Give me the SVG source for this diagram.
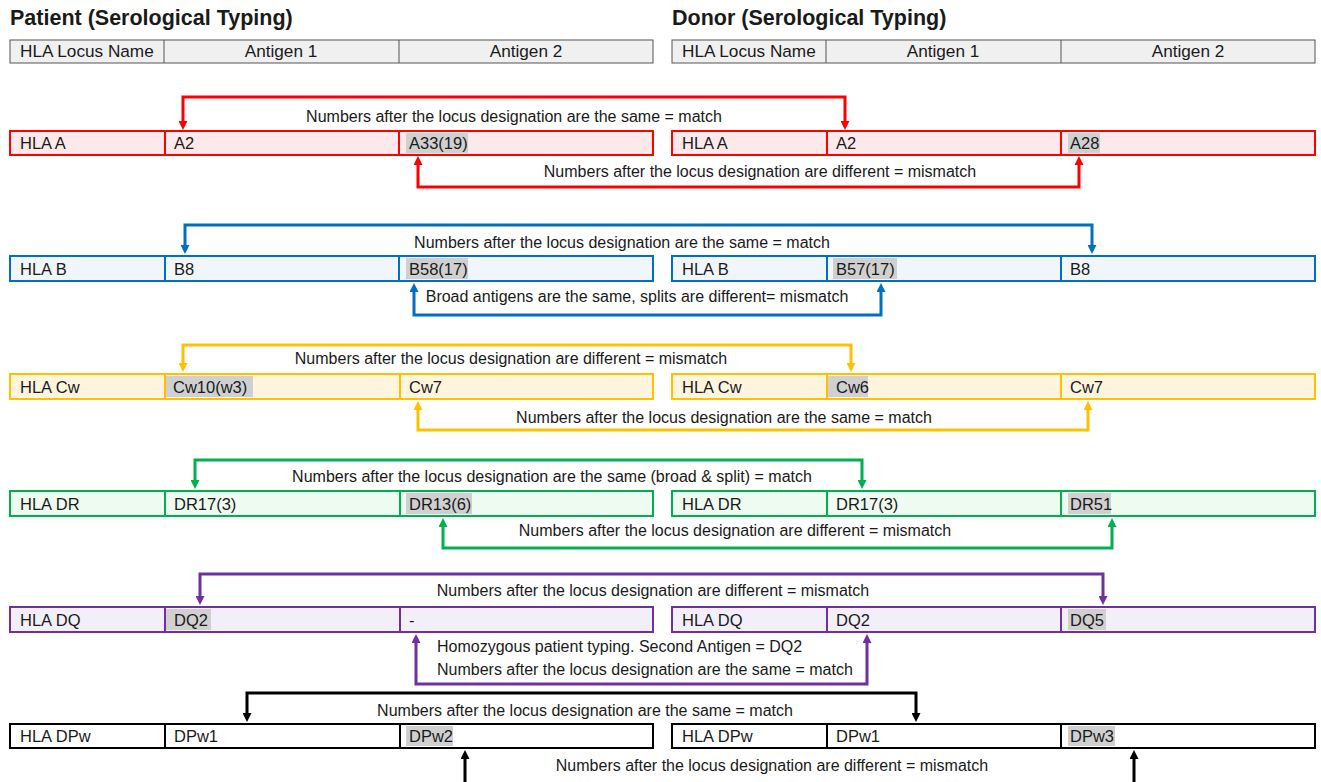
<svg xmlns="http://www.w3.org/2000/svg" width="1321" height="782" viewBox="0 0 1321 782">
<style>
text{font-family:"Liberation Sans",Arial,sans-serif;fill:#1a1a1a}
.title{font-size:21.5px;font-weight:bold}
.cell{font-size:16.5px}
.hcell{font-size:17.2px}
.lbl{font-size:16px;text-anchor:middle}
.lbll{font-size:16px}
.hdr rect{fill:#f0f0f0;stroke:#555;stroke-width:1}
.hdr line{stroke:#555;stroke-width:1}
.hl{fill:#d0d0d0}
.conn{fill:none;stroke-width:3;stroke-linejoin:miter}
</style>
<defs>
<marker id="ar-red" viewBox="0 0 10 10" refX="0" refY="5" markerWidth="9" markerHeight="9" markerUnits="userSpaceOnUse" orient="auto-start-reverse"><path d="M0,0 L10,5 L0,10 z" fill="#ff0000"/></marker>
<marker id="ar-blue" viewBox="0 0 10 10" refX="0" refY="5" markerWidth="9" markerHeight="9" markerUnits="userSpaceOnUse" orient="auto-start-reverse"><path d="M0,0 L10,5 L0,10 z" fill="#0070c0"/></marker>
<marker id="ar-gold" viewBox="0 0 10 10" refX="0" refY="5" markerWidth="9" markerHeight="9" markerUnits="userSpaceOnUse" orient="auto-start-reverse"><path d="M0,0 L10,5 L0,10 z" fill="#ffc000"/></marker>
<marker id="ar-green" viewBox="0 0 10 10" refX="0" refY="5" markerWidth="9" markerHeight="9" markerUnits="userSpaceOnUse" orient="auto-start-reverse"><path d="M0,0 L10,5 L0,10 z" fill="#00b050"/></marker>
<marker id="ar-purple" viewBox="0 0 10 10" refX="0" refY="5" markerWidth="9" markerHeight="9" markerUnits="userSpaceOnUse" orient="auto-start-reverse"><path d="M0,0 L10,5 L0,10 z" fill="#7030a0"/></marker>
<marker id="ar-black" viewBox="0 0 10 10" refX="0" refY="5" markerWidth="9" markerHeight="9" markerUnits="userSpaceOnUse" orient="auto-start-reverse"><path d="M0,0 L10,5 L0,10 z" fill="#000"/></marker>
</defs>
<rect width="1321" height="782" fill="#fff"/>

<g id="titles">
<text class="title" x="10" y="25">Patient (Serological Typing)</text>
<text class="title" x="672" y="25">Donor (Serological Typing)</text>
</g>

<g id="patient-header" class="hdr">
<rect x="10" y="40" width="643" height="23"/>
<line x1="164" y1="40" x2="164" y2="63"/><line x1="399" y1="40" x2="399" y2="63"/>
<text class="hcell" x="20" y="57">HLA Locus Name</text>
<text class="hcell" x="281" y="57" text-anchor="middle">Antigen 1</text>
<text class="hcell" x="526" y="57" text-anchor="middle">Antigen 2</text>
</g>
<g id="donor-header" class="hdr">
<rect x="672" y="40" width="643" height="23"/>
<line x1="826" y1="40" x2="826" y2="63"/><line x1="1061" y1="40" x2="1061" y2="63"/>
<text class="hcell" x="682" y="57">HLA Locus Name</text>
<text class="hcell" x="943" y="57" text-anchor="middle">Antigen 1</text>
<text class="hcell" x="1188" y="57" text-anchor="middle">Antigen 2</text>
</g>

<!-- HLA A -->
<g id="patient-A">
<rect x="10" y="131" width="643" height="24" fill="#fde9e9" stroke="#ff0000" stroke-width="2"/>
<line x1="165" y1="131" x2="165" y2="155" stroke="#ff0000" stroke-width="2"/><line x1="399" y1="131" x2="399" y2="155" stroke="#ff0000" stroke-width="2"/>
<rect class="hl" x="406" y="133" width="62" height="20"/>
<text class="cell" x="20" y="149">HLA A</text><text class="cell" x="174" y="149">A2</text><text class="cell" x="409" y="149">A33(19)</text>
</g>
<g id="donor-A">
<rect x="672" y="131" width="643" height="24" fill="#fde9e9" stroke="#ff0000" stroke-width="2"/>
<line x1="827" y1="131" x2="827" y2="155" stroke="#ff0000" stroke-width="2"/><line x1="1061" y1="131" x2="1061" y2="155" stroke="#ff0000" stroke-width="2"/>
<rect class="hl" x="1068" y="133" width="32" height="20"/>
<text class="cell" x="682" y="149">HLA A</text><text class="cell" x="836" y="149">A2</text><text class="cell" x="1070" y="149">A28</text>
</g>

<!-- HLA B -->
<g id="patient-B">
<rect x="10" y="256" width="643" height="25" fill="#f1f6fc" stroke="#0070c0" stroke-width="2"/>
<line x1="165" y1="256" x2="165" y2="281" stroke="#0070c0" stroke-width="2"/><line x1="399" y1="256" x2="399" y2="281" stroke="#0070c0" stroke-width="2"/>
<rect class="hl" x="406" y="258" width="62" height="21"/>
<text class="cell" x="20" y="275">HLA B</text><text class="cell" x="174" y="275">B8</text><text class="cell" x="409" y="275">B58(17)</text>
</g>
<g id="donor-B">
<rect x="672" y="256" width="643" height="25" fill="#f1f6fc" stroke="#0070c0" stroke-width="2"/>
<line x1="827" y1="256" x2="827" y2="281" stroke="#0070c0" stroke-width="2"/><line x1="1061" y1="256" x2="1061" y2="281" stroke="#0070c0" stroke-width="2"/>
<rect class="hl" x="833" y="258" width="64" height="21"/>
<text class="cell" x="682" y="275">HLA B</text><text class="cell" x="836" y="275">B57(17)</text><text class="cell" x="1070" y="275">B8</text>
</g>

<!-- HLA Cw -->
<g id="patient-Cw">
<rect x="10" y="374" width="643" height="25" fill="#fff4dc" stroke="#ffc000" stroke-width="2"/>
<line x1="165" y1="374" x2="165" y2="399" stroke="#ffc000" stroke-width="2"/><line x1="400" y1="374" x2="400" y2="399" stroke="#ffc000" stroke-width="2"/>
<rect class="hl" x="166" y="376" width="87" height="21"/>
<text class="cell" x="20" y="393">HLA Cw</text><text class="cell" x="173" y="393">Cw10(w3)</text><text class="cell" x="409" y="393">Cw7</text>
</g>
<g id="donor-Cw">
<rect x="672" y="374" width="643" height="25" fill="#fff4dc" stroke="#ffc000" stroke-width="2"/>
<line x1="827" y1="374" x2="827" y2="399" stroke="#ffc000" stroke-width="2"/><line x1="1061" y1="374" x2="1061" y2="399" stroke="#ffc000" stroke-width="2"/>
<rect class="hl" x="828" y="376" width="40" height="21"/>
<text class="cell" x="682" y="393">HLA Cw</text><text class="cell" x="836" y="393">Cw6</text><text class="cell" x="1070" y="393">Cw7</text>
</g>

<!-- HLA DR -->
<g id="patient-DR">
<rect x="10" y="491" width="643" height="25" fill="#edfbf1" stroke="#00b050" stroke-width="2"/>
<line x1="165" y1="491" x2="165" y2="516" stroke="#00b050" stroke-width="2"/><line x1="400" y1="491" x2="400" y2="516" stroke="#00b050" stroke-width="2"/>
<rect class="hl" x="406" y="493" width="66" height="21"/>
<text class="cell" x="20" y="510">HLA DR</text><text class="cell" x="174" y="510">DR17(3)</text><text class="cell" x="409" y="510">DR13(6)</text>
</g>
<g id="donor-DR">
<rect x="672" y="491" width="643" height="25" fill="#edfbf1" stroke="#00b050" stroke-width="2"/>
<line x1="827" y1="491" x2="827" y2="516" stroke="#00b050" stroke-width="2"/><line x1="1061" y1="491" x2="1061" y2="516" stroke="#00b050" stroke-width="2"/>
<rect class="hl" x="1068" y="493" width="43" height="21"/>
<text class="cell" x="682" y="510">HLA DR</text><text class="cell" x="836" y="510">DR17(3)</text><text class="cell" x="1070" y="510">DR51</text>
</g>

<!-- HLA DQ -->
<g id="patient-DQ">
<rect x="10" y="607" width="643" height="25" fill="#f3eff8" stroke="#7030a0" stroke-width="2"/>
<line x1="165" y1="607" x2="165" y2="632" stroke="#7030a0" stroke-width="2"/><line x1="400" y1="607" x2="400" y2="632" stroke="#7030a0" stroke-width="2"/>
<rect class="hl" x="166" y="609" width="45" height="21"/>
<text class="cell" x="20" y="626">HLA DQ</text><text class="cell" x="174" y="626">DQ2</text><text class="cell" x="409" y="626">-</text>
</g>
<g id="donor-DQ">
<rect x="672" y="607" width="643" height="25" fill="#f3eff8" stroke="#7030a0" stroke-width="2"/>
<line x1="827" y1="607" x2="827" y2="632" stroke="#7030a0" stroke-width="2"/><line x1="1061" y1="607" x2="1061" y2="632" stroke="#7030a0" stroke-width="2"/>
<rect class="hl" x="1068" y="609" width="38" height="21"/>
<text class="cell" x="682" y="626">HLA DQ</text><text class="cell" x="836" y="626">DQ2</text><text class="cell" x="1070" y="626">DQ5</text>
</g>

<!-- HLA DPw -->
<g id="patient-DPw">
<rect x="10" y="724" width="643" height="24" fill="#fff" stroke="#000" stroke-width="2"/>
<line x1="165" y1="724" x2="165" y2="748" stroke="#000" stroke-width="2"/><line x1="400" y1="724" x2="400" y2="748" stroke="#000" stroke-width="2"/>
<rect class="hl" x="406" y="726" width="47" height="20"/>
<text class="cell" x="20" y="742">HLA DPw</text><text class="cell" x="174" y="742">DPw1</text><text class="cell" x="409" y="742">DPw2</text>
</g>
<g id="donor-DPw">
<rect x="672" y="724" width="643" height="24" fill="#fff" stroke="#000" stroke-width="2"/>
<line x1="827" y1="724" x2="827" y2="748" stroke="#000" stroke-width="2"/><line x1="1061" y1="724" x2="1061" y2="748" stroke="#000" stroke-width="2"/>
<rect class="hl" x="1068" y="726" width="47" height="20"/>
<text class="cell" x="682" y="742">HLA DPw</text><text class="cell" x="836" y="742">DPw1</text><text class="cell" x="1070" y="742">DPw3</text>
</g>

<g id="connectors">
<path class="conn" stroke="#ff0000" marker-start="url(#ar-red)" marker-end="url(#ar-red)" d="M183,121 V97 H845 V121"/>
<path class="conn" stroke="#ff0000" marker-start="url(#ar-red)" marker-end="url(#ar-red)" d="M418,165 V187 H1079 V165"/>
<path class="conn" stroke="#0070c0" marker-start="url(#ar-blue)" marker-end="url(#ar-blue)" d="M185,245 V225 H1092 V245"/>
<path class="conn" stroke="#0070c0" marker-start="url(#ar-blue)" marker-end="url(#ar-blue)" d="M414,292 V315 H881 V292" stroke-width="2.5"/>
<path class="conn" stroke="#ffc000" marker-start="url(#ar-gold)" marker-end="url(#ar-gold)" d="M183,363 V345 H851 V363"/>
<path class="conn" stroke="#ffc000" marker-start="url(#ar-gold)" marker-end="url(#ar-gold)" d="M418,410 V430 H1088 V410"/>
<path class="conn" stroke="#00b050" marker-start="url(#ar-green)" marker-end="url(#ar-green)" d="M195,480 V460 H862 V480"/>
<path class="conn" stroke="#00b050" marker-start="url(#ar-green)" marker-end="url(#ar-green)" d="M443,527 V548 H1112 V527"/>
<path class="conn" stroke="#7030a0" marker-start="url(#ar-purple)" marker-end="url(#ar-purple)" d="M200,596 V574 H1103 V596"/>
<path class="conn" stroke="#7030a0" marker-start="url(#ar-purple)" marker-end="url(#ar-purple)" d="M416,643 V684 H867 V643"/>
<path class="conn" stroke="#000" marker-start="url(#ar-black)" marker-end="url(#ar-black)" d="M247,713 V693 H916 V713"/>
<path class="conn" stroke="#000" marker-start="url(#ar-black)" marker-end="url(#ar-black)" d="M465,759 V784 H1134 V759"/>

<text class="lbl" x="514" y="122">Numbers after the locus designation are the same = match</text>
<text class="lbl" x="760" y="177">Numbers after the locus designation are different = mismatch</text>
<text class="lbl" x="622" y="248">Numbers after the locus designation are the same = match</text>
<text class="lbl" x="637" y="302">Broad antigens are the same, splits are different= mismatch</text>
<text class="lbl" x="511" y="364">Numbers after the locus designation are different = mismatch</text>
<text class="lbl" x="724" y="423">Numbers after the locus designation are the same = match</text>
<text class="lbl" x="552" y="482">Numbers after the locus designation are the same (broad &amp; split) = match</text>
<text class="lbl" x="735" y="536">Numbers after the locus designation are different = mismatch</text>
<text class="lbl" x="653" y="596">Numbers after the locus designation are different = mismatch</text>
<text class="lbll" x="437" y="652">Homozygous patient typing. Second Antigen = DQ2</text>
<text class="lbll" x="437" y="675">Numbers after the locus designation are the same = match</text>
<text class="lbl" x="585" y="716">Numbers after the locus designation are the same = match</text>
<text class="lbl" x="772" y="771">Numbers after the locus designation are different = mismatch</text>
</g>
</svg>
